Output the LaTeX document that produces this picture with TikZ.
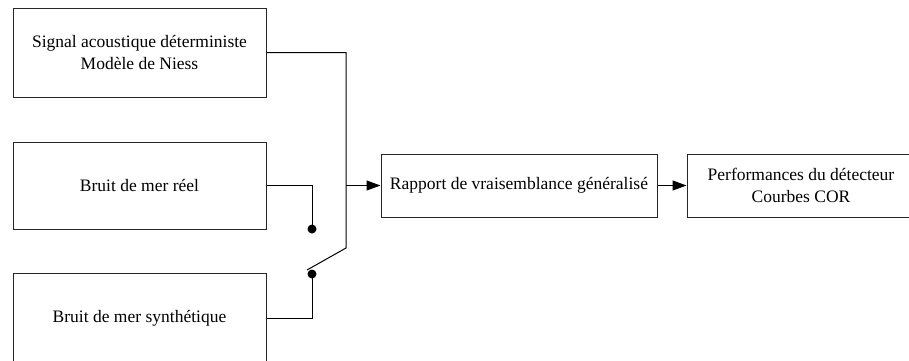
\documentclass[tikz,border=0pt]{standalone}
\usepackage{fontspec}
\setmainfont{Liberation Serif}
\usetikzlibrary{arrows.meta,positioning}
\begin{document}
\begin{tikzpicture}[x=1pt,y=-1pt,
  blk/.style={draw=black!85,line width=1pt,inner sep=0pt,align=center,font=\fontsize{17.5}{22}\selectfont},
  wire/.style={line width=1pt},
  arr/.style={wire,-{Triangle[length=14pt,width=10pt]}},
  dot/.style={circle,fill=black,inner sep=0pt,minimum size=9pt}]
\useasboundingbox (0,0) rectangle (909,360);
\clip (0,0) rectangle (909,360);
\node[blk,minimum width=253pt,minimum height=89pt] (sig) at (139.5,52.5) {Signal acoustique déterministe\\Modèle de Niess};
\node[blk,minimum width=253pt,minimum height=87pt] (reel) at (139.5,185.5) {Bruit de mer réel};
\node[blk,minimum width=253pt,minimum height=89pt] (syn) at (139.5,318) {Bruit de mer synthétique};
\node[blk,minimum width=276pt,minimum height=63pt] (rv) at (519,185.5) {Rapport de vraisemblance généralisé};
\node[blk,minimum width=228pt,minimum height=63pt] (perf) at (801,185.5) {Performances du détecteur\\Courbes COR};
\node[dot] (d1) at (312,229) {};
\node[dot] (d2) at (312,274) {};
\coordinate (j) at (346,185.5);
\coordinate (c1) at (346,52.5);
\coordinate (c2) at (346,248);
\coordinate (sw) at (307,270);
\draw[wire] (sig.east) -- (c1) -- (c2) -- (sw);
\draw[wire] (reel.east) -| (d1.center);
\draw[wire] (syn.east) -| (d2.center);
\draw[arr] (j) -- (rv.west);
\draw[arr] (rv.east) -- (perf.west);
\end{tikzpicture}
\end{document}
